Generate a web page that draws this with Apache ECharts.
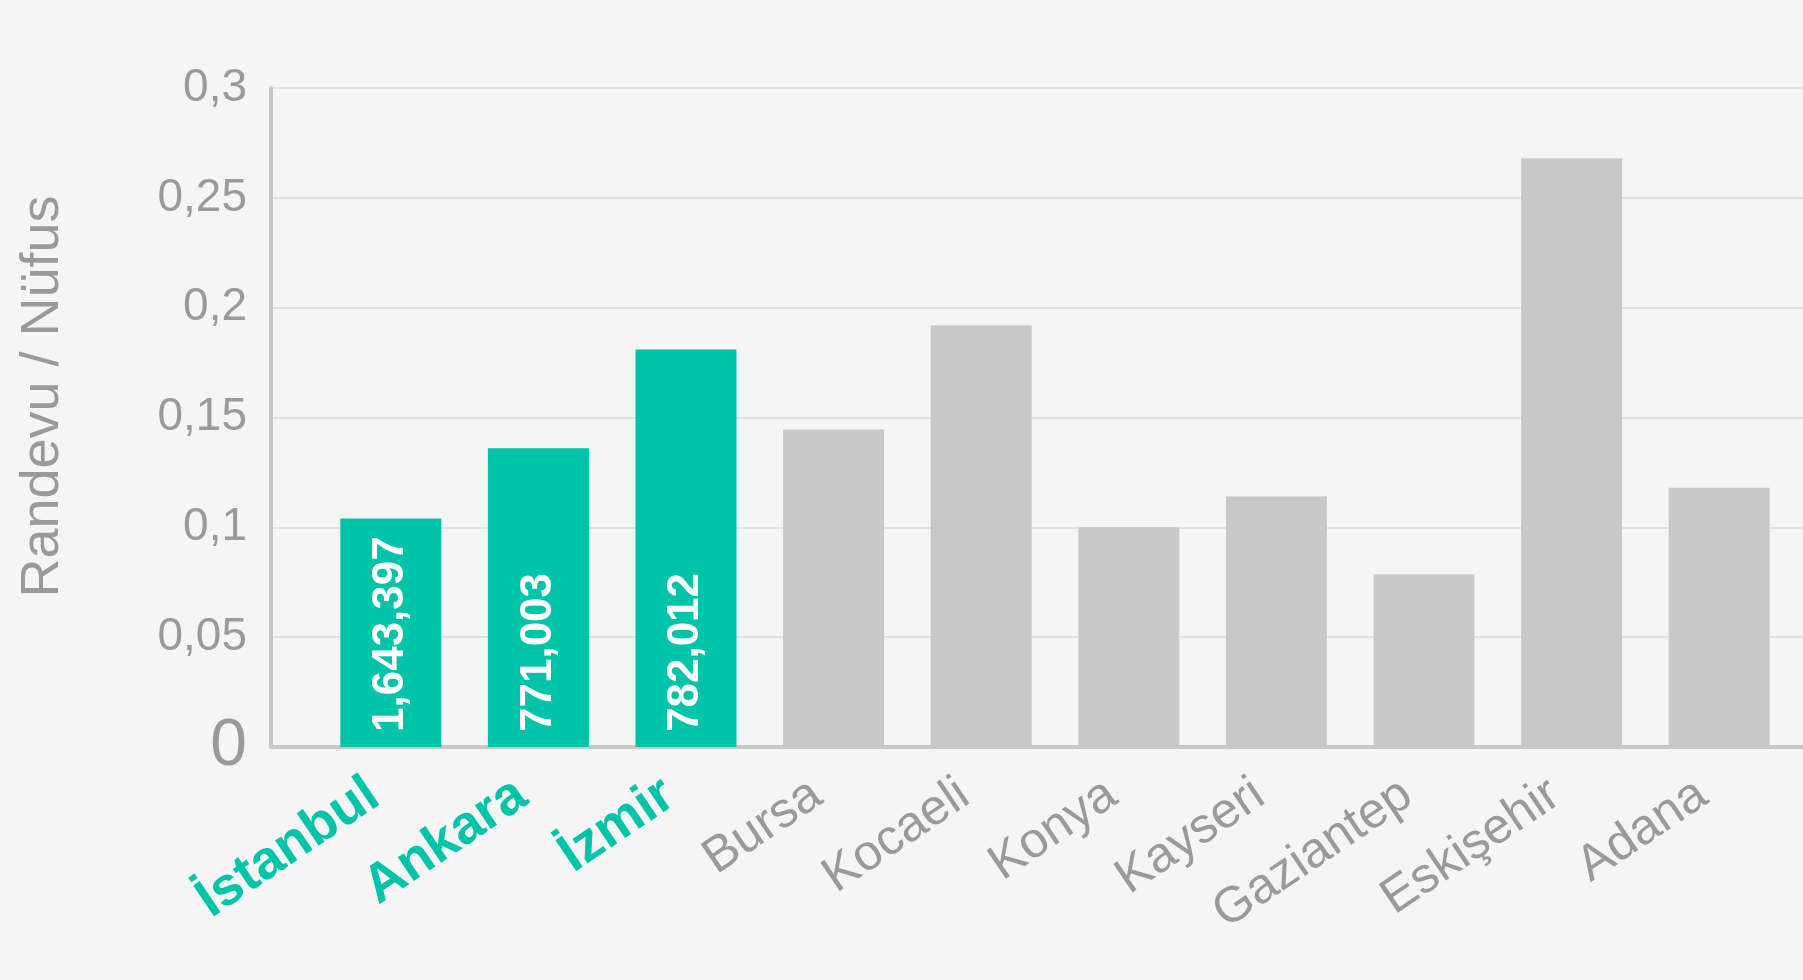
<!DOCTYPE html>
<html>
<head>
<meta charset="utf-8">
<script src="https://cdn.jsdelivr.net/npm/echarts@6/dist/echarts.min.js"></script>
<style>
html,body{margin:0;padding:0;background:#f5f5f5;}
#c{width:1803px;height:980px;}
</style>
</head>
<body>
<div id="c"></div>
<script>
const categories = ["İstanbul","Ankara","İzmir","Bursa","Kocaeli","Konya","Kayseri","Gaziantep","Eskişehir","Adana"];
const ratios = [0.104,0.136,0.181,0.1445,0.192,0.100,0.114,0.0786,0.268,0.118];
const highlighted = [true,true,true,false,false,false,false,false,false,false];
const barLabels = ["1,643,397","771,003","782,012","","","","","","",""];
const yTickLabels = ["0","0,05","0,1","0,15","0,2","0,25","0,3"];
const yAxisTitle = "Randevu / Nüfus";

const TEAL = "#00c4a7";
const GRAY_BAR = "#c8c8c8";
const TEXT = "#9a9a9a";
const FONT = "'Liberation Sans', Arial, Helvetica, sans-serif";

const chart = echarts.init(document.getElementById('c'), null, {renderer:'canvas'});
const gridTop = 88, gridBottom = 233;

chart.setOption({
  backgroundColor: '#f5f5f5',
  animation: false,
  textStyle: {fontFamily: FONT},
  grid: [
    {left: 271, right: 0, top: gridTop, bottom: gridBottom},
    {left: 317, right: 10, top: gridTop, bottom: gridBottom}
  ],
  xAxis: [
    {
      type: 'value', gridIndex: 0, min: 0, max: 1,
      axisLine: {show: true, lineStyle: {color: GRAY_BAR, width: 4}},
      axisTick: {show: false}, axisLabel: {show: false}, splitLine: {show: false}
    },
    {
      type: 'category', gridIndex: 1, data: categories,
      axisLine: {show: false}, axisTick: {show: false}, splitLine: {show: false},
      axisLabel: {
        interval: 0, rotate: 34, margin: 32, padding: [0, 20, 0, 0],
        formatter: (v, i) => highlighted[i] ? '{hl|' + v + '}' : '{n|' + v + '}',
        rich: {
          hl: {color: TEAL, fontSize: 54, fontWeight: 'bold', fontFamily: FONT},
          n: {color: TEXT, fontSize: 50, fontFamily: FONT}
        }
      }
    }
  ],
  yAxis: [
    {
      type: 'value', gridIndex: 0, min: 0, max: 0.3, interval: 0.05,
      name: yAxisTitle, nameLocation: 'middle', nameRotate: 90, nameGap: 201,
      nameTextStyle: {color: TEXT, fontSize: 54, fontFamily: FONT, padding: [0, 0, 0, 42]},
      axisLine: {show: true, lineStyle: {color: GRAY_BAR, width: 4}},
      axisTick: {show: false},
      splitLine: {show: true, lineStyle: {color: '#e0e0e0', width: 2}},
      axisLabel: {
        margin: 24,
        formatter: (v, i) => i === 0 ? '{z|' + yTickLabels[i] + '}' : '{n|' + yTickLabels[i] + '}',
        rich: {
          z: {color: TEXT, fontSize: 66, fontFamily: FONT},
          n: {color: TEXT, fontSize: 46, fontFamily: FONT}
        }
      }
    },
    {
      type: 'value', gridIndex: 1, min: 0, max: 0.3, interval: 0.05,
      show: false, splitLine: {show: false}
    }
  ],
  series: [{
    type: 'bar',
    xAxisIndex: 1, yAxisIndex: 1,
    barWidth: 101,
    data: ratios.map((v, i) => ({
      value: v,
      itemStyle: {color: highlighted[i] ? TEAL : GRAY_BAR},
      label: {show: !!barLabels[i]}
    })),
    label: {
      show: true,
      position: 'insideBottom',
      rotate: 90, align: 'left', verticalAlign: 'middle', distance: 15,
      color: '#ffffff', fontSize: 44, fontWeight: 'bold', fontFamily: FONT,
      formatter: p => barLabels[p.dataIndex]
    }
  }]
});
</script>
</body>
</html>
